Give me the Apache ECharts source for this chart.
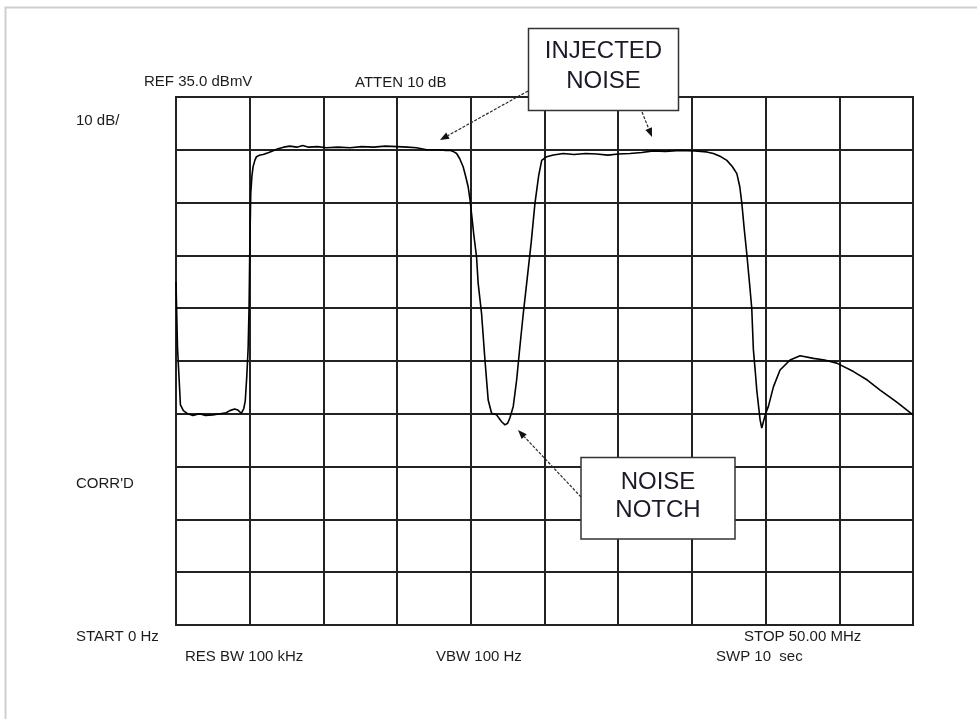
<!DOCTYPE html>
<html>
<head>
<meta charset="utf-8">
<script src="https://cdn.jsdelivr.net/npm/echarts@6/dist/echarts.min.js"></script>
<style>
html,body{margin:0;padding:0;background:#fff;}
#c{width:977px;height:719px;}
</style>
</head>
<body>
<div id="c"></div>
<script>
// Frequency (MHz) of trace samples
const freqMHz = [0, 0.05, 0.1, 0.3, 0.5, 0.8, 1.15, 1.6, 2.0, 2.5, 3.0, 3.4, 3.65, 3.98, 4.2, 4.43, 4.6, 4.7, 4.8, 4.89, 4.96, 5.0, 5.07, 5.15, 5.23, 5.35, 5.46, 5.7, 5.91, 6.3, 6.92, 7.3, 7.72, 8.2, 8.6, 9.0, 9.6, 10.2, 11.0, 11.8, 12.6, 13.4, 14.2, 15.0, 15.7, 16.32, 17.0, 17.8, 18.3, 18.58, 18.8, 19.04, 19.25, 19.48, 19.65, 19.82, 19.95, 20.05, 20.2, 20.39, 20.5, 20.73, 20.96, 21.18, 21.41, 21.75, 22.09, 22.32, 22.5, 22.65, 22.88, 23.11, 23.33, 23.56, 23.79, 24.1, 24.35, 24.6, 24.81, 25.15, 25.6, 26.27, 27.0, 27.8, 28.54, 29.3, 30.0, 30.8, 31.6, 32.38, 33.2, 34.2, 35.2, 36.0, 36.46, 36.9, 37.37, 37.75, 38.05, 38.25, 38.39, 38.55, 38.72, 38.9, 39.06, 39.17, 39.3, 39.4, 39.52, 39.63, 39.74, 39.85, 40.0, 40.19, 40.53, 40.98, 41.66, 42.34, 43.25, 44.0, 44.83, 45.96, 46.9, 47.77, 48.9, 50.0];
// Level (dBmV) of trace samples
const levelDBmV = [0.0, -6.0, -12.3, -23.3, -24.4, -25.0, -25.3, -25.0, -25.3, -25.2, -25.0, -24.8, -24.4, -24.1, -24.3, -24.9, -24.0, -22.5, -18.0, -12.9, -4.4, 5.0, 16.7, 20.0, 21.8, 23.0, 23.7, 24.0, 24.1, 24.5, 25.2, 25.5, 25.7, 25.5, 25.8, 25.5, 25.6, 25.4, 25.5, 25.4, 25.6, 25.5, 25.7, 25.6, 25.5, 25.4, 25.0, 25.0, 24.9, 24.9, 24.7, 24.3, 23.3, 21.8, 20.0, 18.0, 15.5, 12.9, 9.0, 4.7, -0.3, -6.0, -14.8, -22.4, -24.9, -25.2, -26.5, -27.1, -26.8, -25.8, -23.6, -18.6, -12.3, -6.0, -0.3, 7.5, 14.8, 20.0, 23.0, 23.7, 24.0, 24.3, 24.1, 24.3, 24.2, 24.0, 24.2, 24.3, 24.5, 24.8, 24.7, 24.9, 24.8, 24.6, 24.3, 23.8, 23.0, 21.8, 20.5, 18.0, 14.8, 10.0, 5.4, 0.0, -5.0, -12.8, -17.0, -20.5, -23.5, -26.2, -27.7, -26.5, -25.0, -23.6, -19.9, -16.7, -14.8, -14.0, -14.5, -14.8, -15.4, -17.0, -18.6, -20.5, -22.8, -25.2];

const refLevel = 35;      // dBmV at top graticule
const dbPerDiv = 10;
const numYDiv = 10;
const startMHz = 0, stopMHz = 50, mhzPerDiv = 5;

const labels = [
  {text: 'REF 35.0 dBmV', x: 144, y: 82},
  {text: 'ATTEN 10 dB', x: 355, y: 83},
  {text: '10 dB/', x: 76, y: 121},
  {text: "CORR'D", x: 76, y: 484},
  {text: 'START 0 Hz', x: 76, y: 637},
  {text: 'STOP 50.00 MHz', x: 744, y: 637},
  {text: 'RES BW 100 kHz', x: 185, y: 657},
  {text: 'VBW 100 Hz', x: 436, y: 657},
  {text: 'SWP 10  sec', x: 716, y: 657}
];

const chart = echarts.init(document.getElementById('c'), null, {renderer: 'canvas'});

const FONT = '"Liberation Sans", Arial, sans-serif';
const graphics = [];
graphics.push({type: 'polyline', z: 100, shape: {points: [[5.5, 719], [5.5, 7.5], [977, 7.5]]},
  style: {stroke: '#cfcfcf', lineWidth: 2, fill: null}});
labels.forEach(l => graphics.push({type: 'text', z: 100, x: l.x, y: l.y,
  style: {text: l.text, fill: '#1c1c1c', font: '15px ' + FONT, textAlign: 'left', textVerticalAlign: 'middle'}}));

function arrow(x1, y1, x2, y2) {
  const dx = x2 - x1, dy = y2 - y1, L = Math.sqrt(dx*dx + dy*dy);
  const ux = dx / L, uy = dy / L, hl = 9, hw = 3.5;
  const bx = x2 - ux*hl, by = y2 - uy*hl;
  graphics.push({type: 'line', z: 100, shape: {x1: x1, y1: y1, x2: bx, y2: by},
    style: {stroke: '#2a2a2a', lineWidth: 1.2, lineDash: [3, 1.5]}});
  graphics.push({type: 'polygon', z: 100, shape: {points: [[x2, y2], [bx - uy*hw, by + ux*hw], [bx + uy*hw, by - ux*hw]]},
    style: {fill: '#111', stroke: null}});
}
function box(x, y, w, h, lines, cy) {
  graphics.push({type: 'rect', z: 101, shape: {x: x, y: y, width: w, height: h},
    style: {fill: '#fff', stroke: '#333', lineWidth: 1.5}});
  lines.forEach((t, i) => graphics.push({type: 'text', z: 102, x: x + w/2, y: cy[i],
    style: {text: t, fill: '#1a1a2a', font: '24px ' + FONT, textAlign: 'center', textVerticalAlign: 'middle'}}));
}
arrow(528, 91, 440, 140);
arrow(642, 112, 652, 137);
arrow(581, 497, 518, 430);
box(528.5, 28.5, 150, 82, ['INJECTED', 'NOISE'], [51, 81]);
box(581, 457.5, 154, 81.5, ['NOISE', 'NOTCH'], [482, 510]);

chart.setOption({
  animation: false,
  backgroundColor: '#fff',
  grid: {left: 176, top: 97, width: 737, height: 528, show: true, borderColor: '#222', borderWidth: 2, backgroundColor: 'transparent'},
  xAxis: {type: 'value', min: startMHz, max: stopMHz, interval: mhzPerDiv,
    axisLine: {show: false}, axisTick: {show: false}, axisLabel: {show: false},
    splitLine: {show: true, lineStyle: {color: '#222', width: 2}}},
  yAxis: [
    {type: 'value', min: refLevel - dbPerDiv*numYDiv, max: refLevel,
      axisLine: {show: false}, axisTick: {show: false}, axisLabel: {show: false}, splitLine: {show: false}},
    {type: 'value', min: 0, max: numYDiv, interval: 1,
      axisLine: {show: false}, axisTick: {show: false}, axisLabel: {show: false},
      splitLine: {show: true, lineStyle: {color: '#222', width: 2}}}
  ],
  series: [{
    type: 'line', yAxisIndex: 0, showSymbol: false, symbol: 'none',
    data: freqMHz.map((f, i) => [f, levelDBmV[i]]),
    lineStyle: {color: '#000', width: 1.6}, z: 5
  }],
  graphic: graphics
});
</script>
</body>
</html>
